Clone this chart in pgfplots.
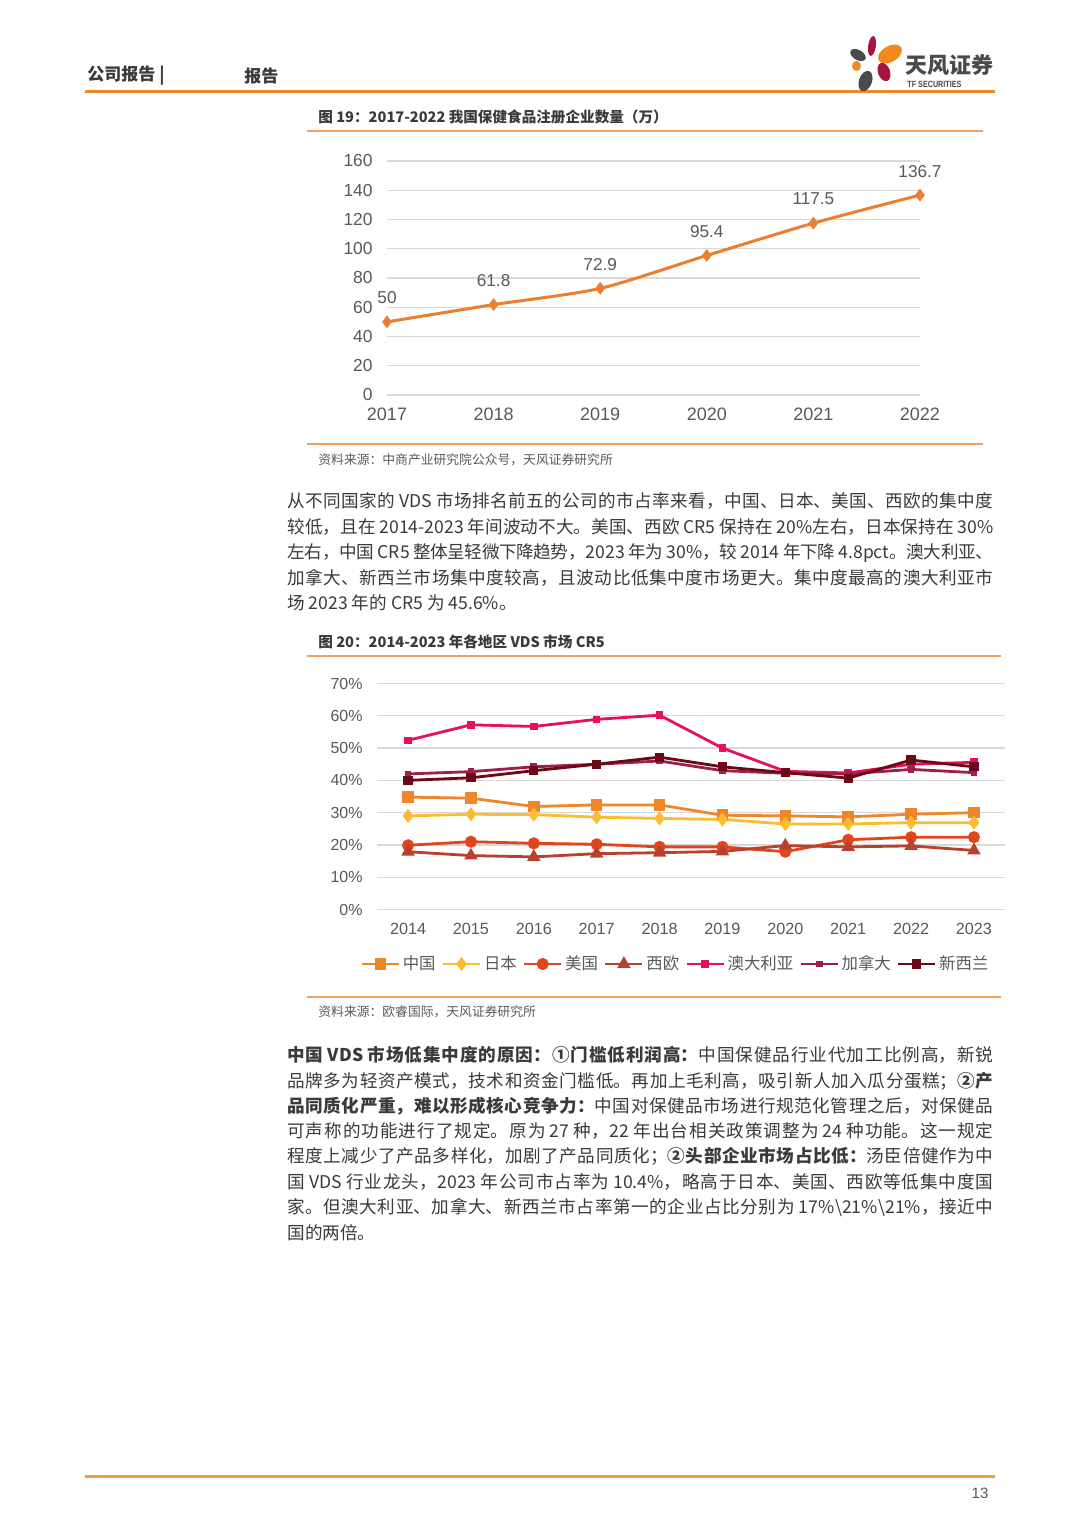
\documentclass[border=0pt]{standalone}
\usepackage{fontspec}
\setmainfont{Noto Sans CJK SC}
\newfontfamily\arial{Liberation Sans}
\usepackage{graphicx}
\usepackage{pgfplots}
\pgfplotsset{compat=1.18}
\XeTeXlinebreaklocale "zh"
\XeTeXlinebreakskip=0pt plus 3pt minus 0.6pt
\definecolor{hdrline}{HTML}{E8892B}
\definecolor{ftline}{HTML}{E9A23B}
\definecolor{frameline}{HTML}{F0A35E}
\definecolor{txt}{HTML}{3A3A3A}
\definecolor{axtxt}{HTML}{595959}
\definecolor{gridc}{HTML}{D9D9D9}
\definecolor{cOne}{HTML}{ED7D31}
\definecolor{cCN}{HTML}{F0862A}
\definecolor{cJP}{HTML}{FBBC2E}
\definecolor{cUS}{HTML}{E0461E}
\definecolor{cWE}{HTML}{B8402D}
\definecolor{cAU}{HTML}{E8105C}
\definecolor{cCA}{HTML}{9E1F4C}
\definecolor{cNZ}{HTML}{6B0A14}
\definecolor{logoO}{HTML}{F08A1D}
\definecolor{logoR}{HTML}{A8143F}
\definecolor{logoG}{HTML}{4A4A4A}
\newcommand\bodyfont{\fontsize{8.8pt}{12.75pt}\selectfont\color{txt}}
\newcommand\jline[1]{\parbox[b]{353pt}{\tolerance=10000\hfuzz=20pt\parfillskip=0pt\XeTeXlinebreakpenalty=10000\exhyphenpenalty=10000\hyphenpenalty=10000\relax #1}}
\pgfplotstableread{
year CN JP US WE AU CA NZ
2014 34.8 29.0 19.9 17.9 52.4 42.0 40.0
2015 34.5 29.5 21.0 16.7 57.2 42.7 40.8
2016 31.9 29.4 20.5 16.3 56.7 44.2 43.0
2017 32.4 28.6 20.2 17.3 58.9 45.0 45.0
2018 32.4 28.2 19.4 17.6 60.2 46.0 47.2
2019 29.2 27.9 19.4 18.0 50.0 43.0 44.2
2020 29.0 26.5 17.9 19.8 42.8 42.2 42.4
2021 28.7 26.5 21.6 19.4 42.3 42.0 40.7
2022 29.5 26.9 22.4 19.7 45.0 43.4 46.3
2023 30.0 26.9 22.4 18.3 45.6 42.4 44.2
}\cronfive
\begin{document}
\begin{tikzpicture}
\begin{scope}[x=0.5pt,y=-0.5pt]
\path[fill=white] (0,0) rectangle (1080,1527);
% header
\node[anchor=west,inner sep=0,text=txt,font=\bfseries\fontsize{8.5pt}{10pt}\selectfont] at (87,76) {公司报告 |};
\node[anchor=west,inner sep=0,text=txt,font=\bfseries\fontsize{8.5pt}{10pt}\selectfont] at (244,76) {报告};
\draw[hdrline,line width=1.5pt] (85,91) -- (995,91);
% logo
\fill[logoR,rotate around={-8:(872,46)}] (872,46) ellipse [x radius=3.8, y radius=10];
\fill[logoG,rotate around={-30:(858,55)}] (858,55) ellipse [x radius=8.5, y radius=5];
\fill[logoO,rotate around={30:(890,54)}] (890,54) ellipse [x radius=13, y radius=8];
\fill[logoO] (856.5,66) ellipse [x radius=4.5, y radius=5];
\fill[logoR,rotate around={20:(884,72)}] (884,72) ellipse [x radius=6, y radius=9.5];
\fill[logoG,rotate around={-20:(865.5,81)}] (865.5,81) ellipse [x radius=6.5, y radius=10.5];
\node[anchor=west,inner sep=0,text=logoG,font=\bfseries\fontsize{11pt}{12pt}\selectfont] at (905,65) {天风证券};
\node[anchor=west,inner sep=0,text=logoG,font=\arial\bfseries\fontsize{4.5pt}{5pt}\selectfont] at (907,84) {\scalebox{0.8}[1]{TF SECURITIES}};
% chart 1 frame
\node[anchor=west,inner sep=0,text=txt,font=\bfseries\fontsize{7.3pt}{9pt}\selectfont] at (318,117) {图 19：2017-2022 我国保健食品注册企业数量（万）};
\draw[frameline,line width=0.9pt] (307,131) -- (983,131);
\draw[frameline,line width=0.9pt] (307,444) -- (983,444);
\node[anchor=west,inner sep=0,text=axtxt,font=\fontsize{6.4pt}{8pt}\selectfont] at (318,460) {资料来源：中商产业研究院公众号，天风证券研究所};
% paragraph 1
\node[anchor=base west,inner sep=0,font=\bodyfont] at (287,507) {\jline{从不同国家的~VDS~市场排名前五的公司的市占率来看，中国、日本、美国、西欧的集中度}};
\node[anchor=base west,inner sep=0,font=\bodyfont] at (287,533) {\jline{较低，且在~2014-2023~年间波动不大。美国、西欧~CR5~保持在~20\%左右，日本保持在~30\%}};
\node[anchor=base west,inner sep=0,font=\bodyfont] at (287,558) {\jline{左右，中国~CR5~整体呈轻微下降趋势，2023~年为~30\%，较~2014~年下降~4.8pct。澳大利亚、}};
\node[anchor=base west,inner sep=0,font=\bodyfont] at (287,584) {\jline{加拿大、新西兰市场集中度较高，且波动比低集中度市场更大。集中度最高的澳大利亚市}};
\node[anchor=base west,inner sep=0,font=\bodyfont] at (287,609) {场 2023 年的 CR5 为 45.6\%。};
% chart 2 frame
\node[anchor=west,inner sep=0,text=txt,font=\bfseries\fontsize{7.3pt}{9pt}\selectfont] at (318,642) {图 20：2014-2023 年各地区 VDS 市场 CR5};
\draw[frameline,line width=0.9pt] (307,656) -- (1001,656);
\draw[frameline,line width=0.9pt] (307,997) -- (1001,997);
\node[anchor=west,inner sep=0,text=axtxt,font=\fontsize{6.4pt}{8pt}\selectfont] at (318,1012) {资料来源：欧睿国际，天风证券研究所};
% paragraph 2
\node[anchor=base west,inner sep=0,font=\bodyfont] at (287,1061) {\jline{\textbf{中国~VDS~市场低集中度的原因：①门槛低利润高：}中国保健品行业代加工比例高，新锐}};
\node[anchor=base west,inner sep=0,font=\bodyfont] at (287,1087) {\jline{品牌多为轻资产模式，技术和资金门槛低。再加上毛利高，吸引新人加入瓜分蛋糕；\textbf{②产}}};
\node[anchor=base west,inner sep=0,font=\bodyfont] at (287,1112) {\jline{\textbf{品同质化严重，难以形成核心竞争力：}中国对保健品市场进行规范化管理之后，对保健品}};
\node[anchor=base west,inner sep=0,font=\bodyfont] at (287,1137) {\jline{可声称的功能进行了规定。原为~27~种，22~年出台相关政策调整为~24~种功能。这一规定}};
\node[anchor=base west,inner sep=0,font=\bodyfont] at (287,1162) {\jline{程度上减少了产品多样化，加剧了产品同质化；\textbf{②头部企业市场占比低：}汤臣倍健作为中}};
\node[anchor=base west,inner sep=0,font=\bodyfont] at (287,1188) {\jline{国~VDS~行业龙头，2023~年公司市占率为~10.4\%，略高于日本、美国、西欧等低集中度国}};
\node[anchor=base west,inner sep=0,font=\bodyfont] at (287,1213) {\jline{家。但澳大利亚、加拿大、新西兰市占率第一的企业占比分别为~17\%\textbackslash 21\%\textbackslash 21\%，接近中}};
\node[anchor=base west,inner sep=0,font=\bodyfont] at (287,1239) {国的两倍。};
% footer
\draw[ftline,line width=1.5pt] (85,1476) -- (995,1476);
\node[inner sep=0,text=axtxt,font=\arial\fontsize{7.5pt}{9pt}\selectfont] at (980,1493) {13};
\end{scope}

% chart 1
\begin{axis}[
  at={(193.5pt,-197.5pt)}, anchor=south west,
  scale only axis, width=266.5pt, height=117pt,
  xmin=2017, xmax=2022, ymin=0, ymax=160,
  xtick={2017,2018,2019,2020,2021,2022},
  xticklabels={2017,2018,2019,2020,2021,2022},
  ytick={0,20,40,60,80,100,120,140,160},
  yticklabels={0,20,40,60,80,100,120,140,160},
  axis line style={draw=none}, tick style={draw=none}, major tick length=0pt,
  ymajorgrids, grid style={gridc, line width=0.6pt},
  xticklabel style={anchor=center, yshift=-9.5pt, font={\arial\fontsize{9pt}{10pt}\selectfont}, text=axtxt},
  yticklabel style={anchor=east, xshift=-3.7pt, font={\arial\fontsize{8.7pt}{10pt}\selectfont}, text=axtxt},
  clip=false,
  point meta=explicit symbolic,
  nodes near coords,
  every node near coord/.style={anchor=center, yshift=12pt, font={\arial\fontsize{8.6pt}{10pt}\selectfont}, text=axtxt},
]
\addplot[cOne, line width=1.5pt, smooth, tension=0.45, mark=diamond*, mark size=2pt, mark options={solid}]
  coordinates {(2017,50) [50] (2018,61.8) [61.8] (2019,72.9) [72.9] (2020,95.4) [95.4] (2021,117.5) [117.5] (2022,136.7) [136.7]};
\end{axis}

% chart 2
\begin{axis}[
  at={(188.3pt,-454.75pt)}, anchor=south west,
  scale only axis, width=314.4pt, height=113pt,
  xmin=2013.5, xmax=2023.5, ymin=0, ymax=70,
  xtick={2014,...,2023},
  xticklabels={2014,2015,2016,2017,2018,2019,2020,2021,2022,2023},
  ytick={0,10,...,70},
  yticklabels={0\%,10\%,20\%,30\%,40\%,50\%,60\%,70\%},
  axis line style={draw=none}, tick style={draw=none}, major tick length=0pt,
  ymajorgrids, grid style={gridc, line width=0.6pt},
  xticklabel style={anchor=center, yshift=-9.75pt, font={\arial\fontsize{8.1pt}{10pt}\selectfont}, text=axtxt},
  yticklabel style={anchor=east, xshift=-3.5pt, font={\arial\fontsize{8pt}{10pt}\selectfont}, text=axtxt},
  clip=false,
  legend columns=7,
  legend image code/.code={\draw[mark repeat=2,mark phase=2,#1] plot coordinates {(0pt,0pt) (9.25pt,0pt) (18.5pt,0pt)};},
  legend style={at={(0.4746,-0.2412)}, anchor=center, draw=none, fill=none,
    font=\fontsize{8.2pt}{10pt}\selectfont, text=axtxt,
    nodes={inner sep=0.6pt},
    /tikz/every odd column/.append style={column sep=0.7pt},
    /tikz/every even column/.append style={column sep=2.4pt}},
  every axis plot/.append style={line width=1.4pt, mark options={solid}},
]
\addplot[cCN, mark=square*, mark size=2.2pt] table[x=year,y=CN] {\cronfive};
\addlegendentry{中国}
\addplot[cJP, mark=diamond*, mark size=2.4pt] table[x=year,y=JP] {\cronfive};
\addlegendentry{日本}
\addplot[cUS, mark=*, mark size=2.3pt] table[x=year,y=US] {\cronfive};
\addlegendentry{美国}
\addplot[cWE, mark=triangle*, mark size=2.5pt] table[x=year,y=WE] {\cronfive};
\addlegendentry{西欧}
\addplot[cAU, mark=square*, mark size=1.2pt] table[x=year,y=AU] {\cronfive};
\addlegendentry{澳大利亚}
\addplot[cCA, mark=square*, mark size=1pt] table[x=year,y=CA] {\cronfive};
\addlegendentry{加拿大}
\addplot[cNZ, mark=square*, mark size=1.6pt] table[x=year,y=NZ] {\cronfive};
\addlegendentry{新西兰}
\end{axis}
\end{tikzpicture}
\end{document}
